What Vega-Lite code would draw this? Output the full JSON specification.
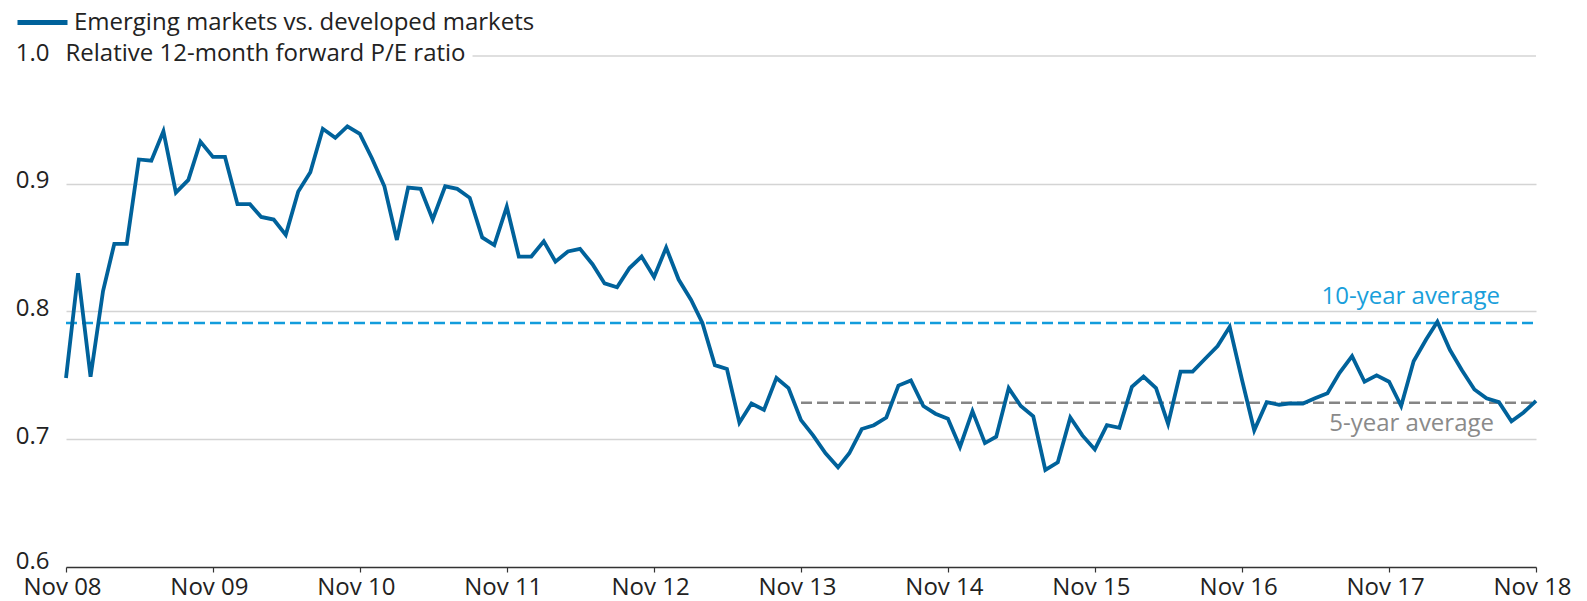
{
  "$schema": "https://vega.github.io/schema/vega-lite/v6.json",
  "width": 1470,
  "height": 511,
  "autosize": {"type": "none"},
  "padding": {"left": 66, "top": 56, "right": 51, "bottom": 34},
  "config": {"font": "Open Sans", "view": {"stroke": null}},
  "datasets": {
    "pe": [
      {"date": "2008-11-01", "value": 0.748}, {"date": "2008-12-01", "value": 0.830},
      {"date": "2009-01-01", "value": 0.749}, {"date": "2009-02-01", "value": 0.816},
      {"date": "2009-03-01", "value": 0.853}, {"date": "2009-04-01", "value": 0.853},
      {"date": "2009-05-01", "value": 0.919}, {"date": "2009-06-01", "value": 0.918},
      {"date": "2009-07-01", "value": 0.941}, {"date": "2009-08-01", "value": 0.893},
      {"date": "2009-09-01", "value": 0.903}, {"date": "2009-10-01", "value": 0.933},
      {"date": "2009-11-01", "value": 0.921}, {"date": "2009-12-01", "value": 0.921},
      {"date": "2010-01-01", "value": 0.884}, {"date": "2010-02-01", "value": 0.884},
      {"date": "2010-03-01", "value": 0.874}, {"date": "2010-04-01", "value": 0.872},
      {"date": "2010-05-01", "value": 0.860}, {"date": "2010-06-01", "value": 0.894},
      {"date": "2010-07-01", "value": 0.909}, {"date": "2010-08-01", "value": 0.943},
      {"date": "2010-09-01", "value": 0.936}, {"date": "2010-10-01", "value": 0.945},
      {"date": "2010-11-01", "value": 0.939}, {"date": "2010-12-01", "value": 0.920},
      {"date": "2011-01-01", "value": 0.898}, {"date": "2011-02-01", "value": 0.856},
      {"date": "2011-03-01", "value": 0.897}, {"date": "2011-04-01", "value": 0.896},
      {"date": "2011-05-01", "value": 0.872}, {"date": "2011-06-01", "value": 0.898},
      {"date": "2011-07-01", "value": 0.896}, {"date": "2011-08-01", "value": 0.889},
      {"date": "2011-09-01", "value": 0.858}, {"date": "2011-10-01", "value": 0.852},
      {"date": "2011-11-01", "value": 0.882}, {"date": "2011-12-01", "value": 0.843},
      {"date": "2012-01-01", "value": 0.843}, {"date": "2012-02-01", "value": 0.855},
      {"date": "2012-03-01", "value": 0.839}, {"date": "2012-04-01", "value": 0.847},
      {"date": "2012-05-01", "value": 0.849}, {"date": "2012-06-01", "value": 0.837},
      {"date": "2012-07-01", "value": 0.822}, {"date": "2012-08-01", "value": 0.819},
      {"date": "2012-09-01", "value": 0.834}, {"date": "2012-10-01", "value": 0.843},
      {"date": "2012-11-01", "value": 0.827}, {"date": "2012-12-01", "value": 0.850},
      {"date": "2013-01-01", "value": 0.825}, {"date": "2013-02-01", "value": 0.809},
      {"date": "2013-03-01", "value": 0.791}, {"date": "2013-04-01", "value": 0.758},
      {"date": "2013-05-01", "value": 0.755}, {"date": "2013-06-01", "value": 0.713},
      {"date": "2013-07-01", "value": 0.728}, {"date": "2013-08-01", "value": 0.723},
      {"date": "2013-09-01", "value": 0.748}, {"date": "2013-10-01", "value": 0.740},
      {"date": "2013-11-01", "value": 0.715}, {"date": "2013-12-01", "value": 0.703},
      {"date": "2014-01-01", "value": 0.689}, {"date": "2014-02-01", "value": 0.678},
      {"date": "2014-03-01", "value": 0.689}, {"date": "2014-04-01", "value": 0.708},
      {"date": "2014-05-01", "value": 0.711}, {"date": "2014-06-01", "value": 0.717},
      {"date": "2014-07-01", "value": 0.742}, {"date": "2014-08-01", "value": 0.746},
      {"date": "2014-09-01", "value": 0.726}, {"date": "2014-10-01", "value": 0.720},
      {"date": "2014-11-01", "value": 0.716}, {"date": "2014-12-01", "value": 0.694},
      {"date": "2015-01-01", "value": 0.722}, {"date": "2015-02-01", "value": 0.697},
      {"date": "2015-03-01", "value": 0.702}, {"date": "2015-04-01", "value": 0.740},
      {"date": "2015-05-01", "value": 0.726}, {"date": "2015-06-01", "value": 0.718},
      {"date": "2015-07-01", "value": 0.676}, {"date": "2015-08-01", "value": 0.682},
      {"date": "2015-09-01", "value": 0.717}, {"date": "2015-10-01", "value": 0.703},
      {"date": "2015-11-01", "value": 0.692}, {"date": "2015-12-01", "value": 0.711},
      {"date": "2016-01-01", "value": 0.709}, {"date": "2016-02-01", "value": 0.741},
      {"date": "2016-03-01", "value": 0.749}, {"date": "2016-04-01", "value": 0.740},
      {"date": "2016-05-01", "value": 0.712}, {"date": "2016-06-01", "value": 0.753},
      {"date": "2016-07-01", "value": 0.753}, {"date": "2016-08-01", "value": 0.763},
      {"date": "2016-09-01", "value": 0.773}, {"date": "2016-10-01", "value": 0.788},
      {"date": "2016-11-01", "value": 0.746}, {"date": "2016-12-01", "value": 0.707},
      {"date": "2017-01-01", "value": 0.729}, {"date": "2017-02-01", "value": 0.727},
      {"date": "2017-03-01", "value": 0.728}, {"date": "2017-04-01", "value": 0.728},
      {"date": "2017-05-01", "value": 0.732}, {"date": "2017-06-01", "value": 0.736},
      {"date": "2017-07-01", "value": 0.752}, {"date": "2017-08-01", "value": 0.765},
      {"date": "2017-09-01", "value": 0.745}, {"date": "2017-10-01", "value": 0.750},
      {"date": "2017-11-01", "value": 0.745}, {"date": "2017-12-01", "value": 0.726},
      {"date": "2018-01-01", "value": 0.761}, {"date": "2018-02-01", "value": 0.778},
      {"date": "2018-03-01", "value": 0.792}, {"date": "2018-04-01", "value": 0.770},
      {"date": "2018-05-01", "value": 0.754}, {"date": "2018-06-01", "value": 0.739},
      {"date": "2018-07-01", "value": 0.732}, {"date": "2018-08-01", "value": 0.729},
      {"date": "2018-09-01", "value": 0.714}, {"date": "2018-10-01", "value": 0.721},
      {"date": "2018-11-01", "value": 0.730}
    ],
    "avg": [
      {"date": "2008-11-01", "date2": "2018-11-01", "value": 0.791, "label": "10-year average"},
      {"date": "2013-11-01", "date2": "2018-11-01", "value": 0.7286, "label": "5-year average"}
    ],
    "notes": [
      {"date": "2018-11-01", "value": 0.791, "label": "10-year average"},
      {"date": "2018-11-01", "value": 0.7286, "label": "5-year average"}
    ],
    "topgrid": [
      {"date": "2011-08-08", "date2": "2018-11-01", "value": 1.0}
    ]
  },
  "encoding": {
    "x": {
      "field": "date",
      "type": "temporal",
      "scale": {
        "type": "utc",
        "domain": [
          {"year": 2008, "month": 11, "date": 1, "utc": true},
          {"year": 2018, "month": 11, "date": 1, "utc": true}
        ]
      },
      "axis": {
        "title": null,
        "values": [
          {"year": 2008, "month": 11, "date": 1, "utc": true},
          {"year": 2009, "month": 11, "date": 1, "utc": true},
          {"year": 2010, "month": 11, "date": 1, "utc": true},
          {"year": 2011, "month": 11, "date": 1, "utc": true},
          {"year": 2012, "month": 11, "date": 1, "utc": true},
          {"year": 2013, "month": 11, "date": 1, "utc": true},
          {"year": 2014, "month": 11, "date": 1, "utc": true},
          {"year": 2015, "month": 11, "date": 1, "utc": true},
          {"year": 2016, "month": 11, "date": 1, "utc": true},
          {"year": 2017, "month": 11, "date": 1, "utc": true},
          {"year": 2018, "month": 11, "date": 1, "utc": true}
        ],
        "labelExpr": "utcFormat(datum.value, '%b %y')",
        "grid": false,
        "domainColor": "#333333",
        "domainWidth": 1.5,
        "tickColor": "#333333",
        "tickSize": 5,
        "tickWidth": 1.2,
        "labelFontSize": 24,
        "labelColor": "#222222",
        "labelPadding": 3,
        "labelOffset": -4,
        "labelFlush": false,
        "labelOverlap": false
      }
    },
    "y": {
      "field": "value",
      "type": "quantitative",
      "scale": {"domain": [0.6, 1.0], "nice": false, "zero": false},
      "axis": {
        "values": [0.6, 0.7, 0.8, 0.9, 1.0],
        "format": ".1f",
        "domain": false,
        "ticks": false,
        "tickSize": 0,
        "labelPadding": 17,
        "labelFontSize": 24,
        "labelColor": "#222222",
        "labelBaseline": "middle",
        "labelOffset": {"condition": {"test": "datum.value < 0.65", "value": -6}, "value": -3},
        "grid": true,
        "gridColor": {"condition": {"test": "datum.value > 0.95 || datum.value < 0.65", "value": "transparent"}, "value": "#d4d4d4"},
        "gridWidth": 1.5,
        "title": "Relative 12-month forward P/E ratio",
        "titleAngle": 0,
        "titleAlign": "left",
        "titleBaseline": "middle",
        "titleX": -1,
        "titleY": -3,
        "titleFontSize": 24,
        "titleFontWeight": "normal",
        "titleColor": "#222222"
      }
    }
  },
  "layer": [
    {
      "data": {"name": "topgrid"},
      "mark": {"type": "rule", "color": "#d4d4d4", "strokeWidth": 1.5},
      "encoding": {"x2": {"field": "date2"}}
    },
    {
      "data": {"name": "avg"},
      "transform": [{"filter": "datum.label == '10-year average'"}],
      "mark": {"type": "rule", "color": "#129cdc", "strokeWidth": 2.5, "strokeDash": [11, 5]},
      "encoding": {"x2": {"field": "date2"}}
    },
    {
      "data": {"name": "avg"},
      "transform": [{"filter": "datum.label == '5-year average'"}],
      "mark": {"type": "rule", "color": "#858585", "strokeWidth": 2.5, "strokeDash": [11, 5]},
      "encoding": {"x2": {"field": "date2"}}
    },
    {
      "data": {"name": "notes"},
      "transform": [{"filter": "datum.label == '10-year average'"}],
      "mark": {"type": "text", "align": "right", "baseline": "alphabetic", "dx": -36, "dy": -19, "fontSize": 24, "color": "#1a9fdb"},
      "encoding": {"text": {"field": "label"}}
    },
    {
      "data": {"name": "notes"},
      "transform": [{"filter": "datum.label == '5-year average'"}],
      "mark": {"type": "text", "align": "right", "baseline": "alphabetic", "dx": -42, "dy": 28, "fontSize": 24, "color": "#8a8a8a"},
      "encoding": {"text": {"field": "label"}}
    },
    {
      "data": {"name": "pe"},
      "mark": {"type": "line", "strokeWidth": 3.8},
      "encoding": {
        "color": {
          "datum": "Emerging markets vs. developed markets",
          "type": "nominal",
          "scale": {"range": ["#00629b"]},
          "legend": {
            "orient": "none",
            "legendX": -51,
            "legendY": -61,
            "title": null,
            "padding": 0,
            "symbolType": "stroke",
            "symbolSize": 2500,
            "symbolStrokeWidth": 5,
            "labelFontSize": 24,
            "labelColor": "#222222",
            "labelOffset": 4,
            "labelLimit": 0
          }
        }
      }
    }
  ]
}
